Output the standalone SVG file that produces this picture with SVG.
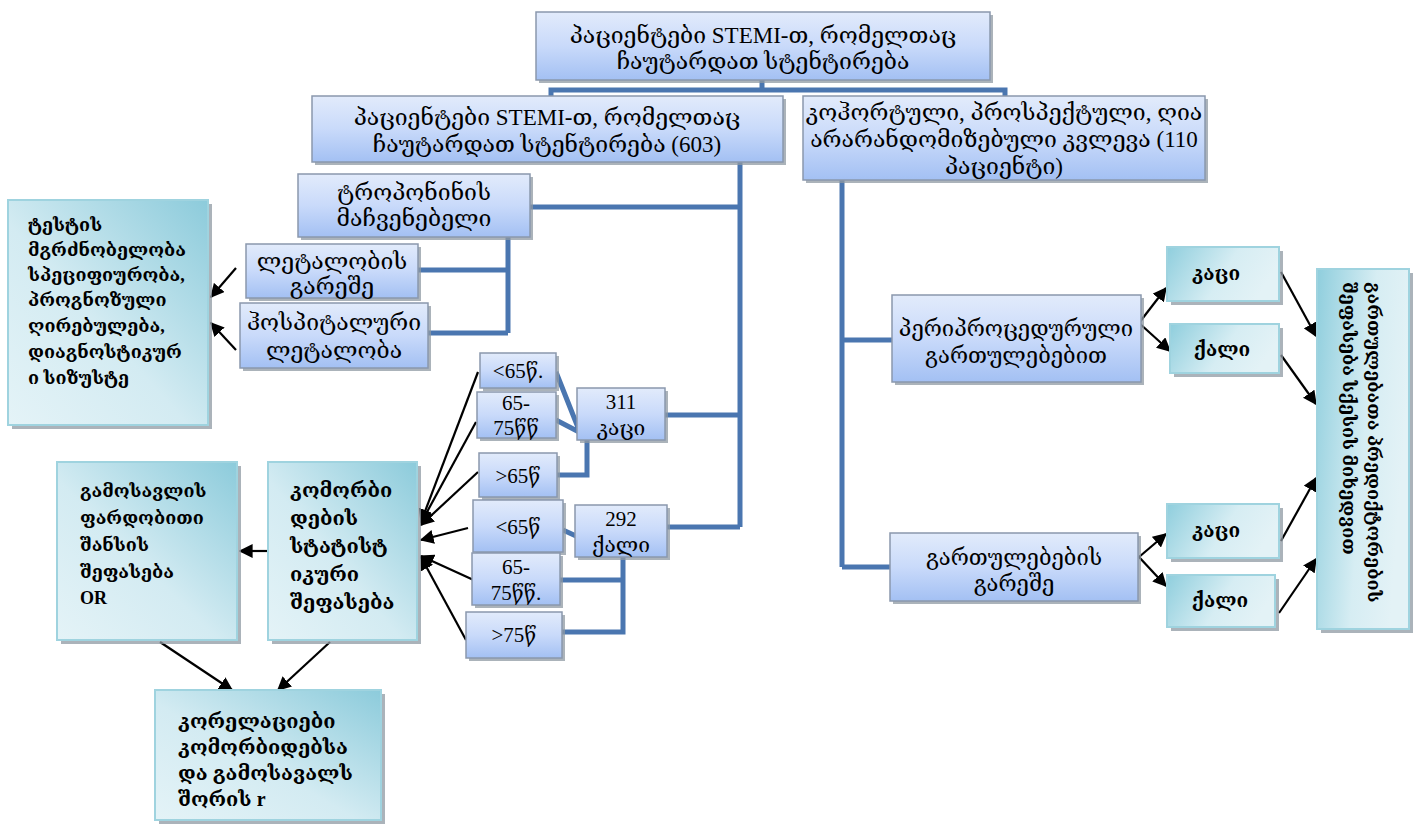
<svg xmlns="http://www.w3.org/2000/svg" width="1414" height="826" viewBox="0 0 1414 826">
<defs>
<linearGradient id="gb" x1="0" y1="0" x2="0" y2="1">
<stop offset="0" stop-color="#e2ebfb"/>
<stop offset="0.5" stop-color="#c9dafa"/>
<stop offset="1" stop-color="#a3c0f3"/>
</linearGradient>
<linearGradient id="gt" x1="1" y1="0" x2="0" y2="1">
<stop offset="0" stop-color="#8ccbdb"/>
<stop offset="0.55" stop-color="#d3ebf2"/>
<stop offset="1" stop-color="#e4f3f7"/>
</linearGradient>
<linearGradient id="gt2" x1="0" y1="0" x2="1" y2="0.3">
<stop offset="0" stop-color="#8fcedd"/>
<stop offset="0.6" stop-color="#d6edf3"/>
<stop offset="1" stop-color="#e3f2f6"/>
</linearGradient>
<marker id="arb" viewBox="0 0 10 10" refX="9" refY="5" markerWidth="14" markerHeight="14" markerUnits="userSpaceOnUse" orient="auto">
<path d="M0,0 L10,5 L0,10 z" fill="#000"/>
</marker>
</defs>
<style>
.b{fill:url(#gb);stroke:#8a98ad;stroke-width:1.5}
.t{fill:url(#gt);stroke:#9fd3df;stroke-width:2}
.t2{fill:url(#gt2);stroke:#9fd3df;stroke-width:2}
.sh{fill:#8f9aa3;opacity:0.75}
.tx{font-family:"Liberation Serif","DejaVu Serif",serif;font-size:23px;fill:#000;text-anchor:middle}
.ag{font-family:"Liberation Serif","DejaVu Serif",serif;font-size:21px;fill:#000;text-anchor:middle}
.tb{font-family:"Liberation Serif","DejaVu Serif",serif;font-size:18px;font-weight:bold;fill:#000}
.bl{fill:none;stroke:#4a76b0;stroke-width:5}
.ak{fill:none;stroke:#000;stroke-width:2.2}
</style>
<g id="connectors">
<path class="bl" d="M762,80 V90 M551,97 V90 H1005 V97"/>
<path class="bl" d="M740,162 V527 M530,207 H740 M665,415 H740 M667,527 H740"/>
<path class="bl" d="M508,237 V333 M418,270 H508 M428,333 H508"/>
<path class="bl" d="M556,372 L579,430 M556,420 L579,432 M557,475 H587 V440"/>
<path class="bl" d="M563,530 L576,536 M560,580 H623 M562,632 H623 V557"/>
<path class="bl" d="M842,180 V567 M842,340 H892 M842,567 H890"/>
<path class="ak" marker-end="url(#arb)" d="M236,268 L211,297"/>
<path class="ak" marker-end="url(#arb)" d="M236,350 L211,323"/>
<path class="ak" marker-end="url(#arb)" d="M478,372 L421,522"/>
<path class="ak" marker-end="url(#arb)" d="M476,422 L421,523"/>
<path class="ak" marker-end="url(#arb)" d="M478,472 L421,525"/>
<path class="ak" marker-end="url(#arb)" d="M468,528 L421,540"/>
<path class="ak" marker-end="url(#arb)" d="M478,582 L421,556"/>
<path class="ak" marker-end="url(#arb)" d="M466,640 L421,557"/>
<path class="ak" marker-end="url(#arb)" d="M268,551 L240,551"/>
<path class="ak" marker-end="url(#arb)" d="M160,642 L232,690"/>
<path class="ak" marker-end="url(#arb)" d="M330,642 L278,690"/>
<path class="ak" marker-end="url(#arb)" d="M1139,323 L1166,288"/>
<path class="ak" marker-end="url(#arb)" d="M1139,323 L1170,351"/>
<path class="ak" marker-end="url(#arb)" d="M1139,557 L1166,534"/>
<path class="ak" marker-end="url(#arb)" d="M1139,557 L1166,586"/>
<path class="ak" marker-end="url(#arb)" d="M1281,272 L1316,336"/>
<path class="ak" marker-end="url(#arb)" d="M1281,355 L1316,404"/>
<path class="ak" marker-end="url(#arb)" d="M1281,541 L1316,478"/>
<path class="ak" marker-end="url(#arb)" d="M1279,613 L1316,559"/>
</g>
<g id="n-top">
<rect class="sh" x="539" y="15" width="454" height="68"/>
<rect class="b" x="536" y="12" width="454" height="68"/>
<text class="tx" x="763" y="43">პაციენტები STEMI-თ, რომელთაც</text>
<text class="tx" x="763" y="69">ჩაუტარდათ სტენტირება</text>
</g>
<g id="n-603">
<rect class="sh" x="315" y="99" width="471" height="66"/>
<rect class="b" x="312" y="96" width="471" height="66"/>
<text class="tx" x="547" y="125">პაციენტები STEMI-თ, რომელთაც</text>
<text class="tx" x="547" y="152">ჩაუტარდათ სტენტირება (603)</text>
</g>
<g id="n-cohort">
<rect class="sh" x="806" y="99" width="402" height="84"/>
<rect class="b" x="803" y="96" width="402" height="84"/>
<text class="tx" x="1004" y="120">კოჰორტული, პროსპექტული, ღია</text>
<text class="tx" x="1004" y="147">არარანდომიზებული კვლევა (110</text>
<text class="tx" x="1004" y="174">პაციენტი)</text>
</g>
<g id="n-troponin">
<rect class="sh" x="301" y="177" width="232" height="63"/>
<rect class="b" x="298" y="174" width="232" height="63"/>
<text class="tx" x="414" y="200">ტროპონინის</text>
<text class="tx" x="414" y="226">მაჩვენებელი</text>
</g>
<g id="n-letal-no">
<rect class="sh" x="249" y="247" width="172" height="54"/>
<rect class="b" x="246" y="244" width="172" height="54"/>
<text class="tx" x="332" y="269">ლეტალობის</text>
<text class="tx" x="332" y="294">გარეშე</text>
</g>
<g id="n-letal-hosp">
<rect class="sh" x="243" y="306" width="188" height="65"/>
<rect class="b" x="240" y="303" width="188" height="65"/>
<text class="tx" x="334" y="330">ჰოსპიტალური</text>
<text class="tx" x="334" y="358">ლეტალობა</text>
</g>
<g id="n-test">
<rect class="sh" x="12" y="204" width="200" height="225"/>
<rect class="t" x="8" y="200" width="200" height="225"/>
<text class="tb" x="28" y="231">ტესტის</text>
<text class="tb" x="28" y="256">მგრძნობელობა</text>
<text class="tb" x="28" y="281">სპეციფიურობა,</text>
<text class="tb" x="28" y="306">პროგნოზული</text>
<text class="tb" x="28" y="332">ღირებულება,</text>
<text class="tb" x="28" y="358">დიაგნოსტიკურ</text>
<text class="tb" x="28" y="384">ი სიზუსტე</text>
</g>
<g id="n-m-lt65">
<rect class="sh" x="483" y="356" width="76" height="35"/>
<rect class="b" x="480" y="353" width="76" height="35"/>
<text class="ag" x="518" y="378">&lt;65წ.</text>
</g>
<g id="n-m-65-75">
<rect class="sh" x="480" y="395" width="79" height="46"/>
<rect class="b" x="477" y="392" width="79" height="46"/>
<text class="ag" x="516" y="410">65-</text>
<text class="ag" x="516" y="435">75წწ</text>
</g>
<g id="n-m-gt65">
<rect class="sh" x="482" y="456" width="78" height="44"/>
<rect class="b" x="479" y="453" width="78" height="44"/>
<text class="ag" x="518" y="483">&gt;65წ</text>
</g>
<g id="n-311">
<rect class="sh" x="580" y="391" width="88" height="52"/>
<rect class="b" x="577" y="388" width="88" height="52"/>
<text class="ag" x="621" y="409">311</text>
<text class="ag" x="621" y="435">კაცი</text>
</g>
<g id="n-f-lt65">
<rect class="sh" x="476" y="503" width="90" height="52"/>
<rect class="b" x="473" y="500" width="90" height="52"/>
<text class="ag" x="518" y="534">&lt;65წ</text>
</g>
<g id="n-f-65-75">
<rect class="sh" x="475" y="556" width="88" height="52"/>
<rect class="b" x="472" y="553" width="88" height="52"/>
<text class="ag" x="516" y="574">65-</text>
<text class="ag" x="516" y="600">75წწ.</text>
</g>
<g id="n-f-gt75">
<rect class="sh" x="469" y="615" width="96" height="46"/>
<rect class="b" x="466" y="612" width="96" height="46"/>
<text class="ag" x="514" y="642">&gt;75წ</text>
</g>
<g id="n-292">
<rect class="sh" x="578" y="508" width="92" height="52"/>
<rect class="b" x="575" y="505" width="92" height="52"/>
<text class="ag" x="621" y="526">292</text>
<text class="ag" x="621" y="552">ქალი</text>
</g>
<g id="n-comorb">
<rect class="sh" x="272" y="466" width="149" height="178"/>
<rect class="t" x="268" y="462" width="149" height="178"/>
<text class="tb" x="290" y="497" style="font-size:20px">კომორბი</text>
<text class="tb" x="290" y="525" style="font-size:20px">დების</text>
<text class="tb" x="290" y="553" style="font-size:20px">სტატისტ</text>
<text class="tb" x="290" y="581" style="font-size:20px">იკური</text>
<text class="tb" x="290" y="609" style="font-size:20px">შეფასება</text>
</g>
<g id="n-or">
<rect class="sh" x="61" y="466" width="180" height="178"/>
<rect class="t" x="57" y="462" width="180" height="178"/>
<text class="tb" x="80" y="497">გამოსავლის</text>
<text class="tb" x="80" y="524">ფარდობითი</text>
<text class="tb" x="80" y="551">შანსის</text>
<text class="tb" x="80" y="578">შეფასება</text>
<text class="tb" x="80" y="604">OR</text>
</g>
<g id="n-corr">
<rect class="sh" x="159" y="694" width="226" height="130"/>
<rect class="t" x="155" y="690" width="226" height="130"/>
<text class="tb" x="178" y="728" style="font-size:20px">კორელაციები</text>
<text class="tb" x="178" y="754" style="font-size:20px">კომორბიდებსა</text>
<text class="tb" x="178" y="780" style="font-size:20px">და გამოსავალს</text>
<text class="tb" x="178" y="806" style="font-size:20px">შორის r</text>
</g>
<g id="n-peri">
<rect class="sh" x="895" y="298" width="249" height="87"/>
<rect class="b" x="892" y="295" width="249" height="87"/>
<text class="tx" x="1016" y="336" style="font-size:22px">პერიპროცედურული</text>
<text class="tx" x="1016" y="363" style="font-size:22px">გართულებებით</text>
</g>
<g id="n-nocomp">
<rect class="sh" x="893" y="536" width="248" height="68"/>
<rect class="b" x="890" y="533" width="248" height="68"/>
<text class="tx" x="1014" y="565" style="font-size:22px">გართულებების</text>
<text class="tx" x="1014" y="591" style="font-size:22px">გარეშე</text>
</g>
<g id="n-m1">
<rect class="sh" x="1171" y="251" width="112" height="54"/>
<rect class="t2" x="1167" y="247" width="112" height="54"/>
<text class="tb" x="1216" y="280" text-anchor="middle" style="font-size:19px">კაცი</text>
</g>
<g id="n-f1">
<rect class="sh" x="1174" y="328" width="109" height="49"/>
<rect class="t2" x="1170" y="324" width="109" height="49"/>
<text class="tb" x="1222" y="356" text-anchor="middle" style="font-size:19px">ქალი</text>
</g>
<g id="n-m2">
<rect class="sh" x="1171" y="508" width="112" height="54"/>
<rect class="t2" x="1167" y="504" width="112" height="54"/>
<text class="tb" x="1216" y="537" text-anchor="middle" style="font-size:19px">კაცი</text>
</g>
<g id="n-f2">
<rect class="sh" x="1171" y="579" width="108" height="52"/>
<rect class="t2" x="1167" y="575" width="108" height="52"/>
<text class="tb" x="1220" y="607" text-anchor="middle" style="font-size:19px">ქალი</text>
</g>
<g id="n-pred">
<rect class="sh" x="1321" y="273" width="92" height="360"/>
<rect class="t2" x="1317" y="269" width="92" height="360"/>
<text class="tb" transform="translate(1368,282) rotate(90)" style="font-size:18px">გართულებათა პრედიქტორების</text>
<text class="tb" transform="translate(1343,282) rotate(90)" style="font-size:18px">შეფასება სქესის მიხედვით</text>
</g>
</svg>
